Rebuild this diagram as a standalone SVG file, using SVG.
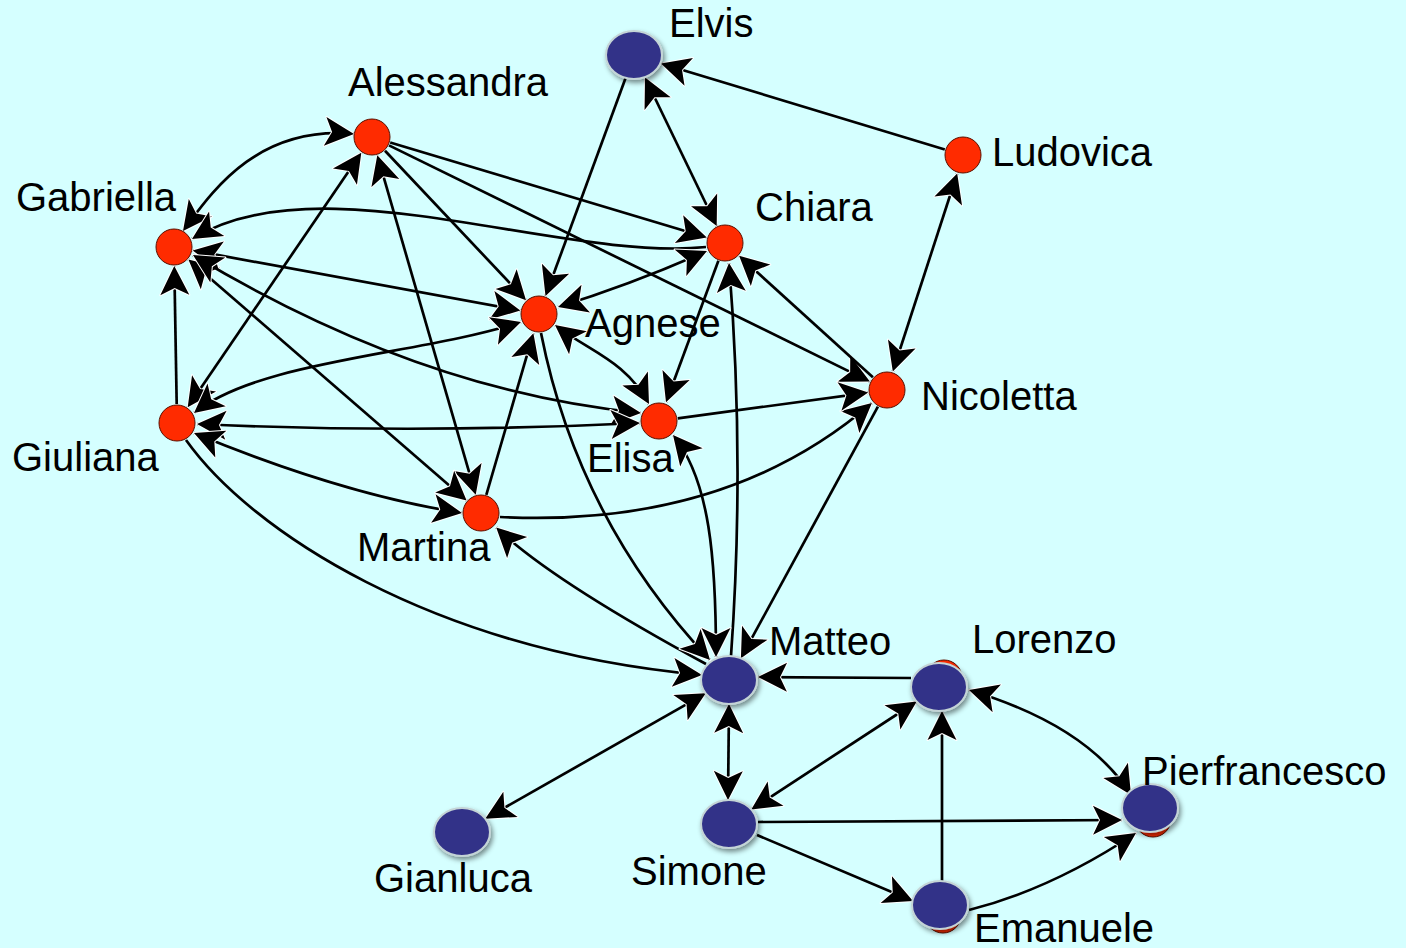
<svg xmlns="http://www.w3.org/2000/svg" width="1406" height="948" viewBox="0 0 1406 948">
<defs>
<style>
.e{fill:none;stroke:#000;stroke-width:2.7}
.a{marker-end:url(#ah)}
.b{marker-start:url(#ah);marker-end:url(#ah)}
.r{fill:#ff2b00;stroke:#5a1000;stroke-width:1}
.u{fill:#333388;stroke:#c4d4d6;stroke-width:2;filter:url(#sh)}
text{font-family:"Liberation Sans",Arial,Helvetica,sans-serif;font-size:40px;fill:#000}
</style>
<marker id="ah" viewBox="-34 -18 38 36" refX="0" refY="0" markerWidth="38" markerHeight="36" markerUnits="userSpaceOnUse" orient="auto-start-reverse">
<path d="M0,0 L-29,-14.5 L-22,0 L-29,14.5 Z" fill="#000" stroke="#fff" stroke-width="2" stroke-linejoin="round" paint-order="stroke"/>
</marker>
<filter id="sh" x="-40%" y="-40%" width="180%" height="180%">
<feDropShadow dx="2" dy="3" stdDeviation="2.5" flood-color="#000" flood-opacity="0.45"/>
</filter>
</defs>
<rect width="1406" height="948" fill="#d5ffff"/>
<g id="connectors">
<path class="e a" d="M944.8,149.5 L661,63.5"/>
<path class="e b" d="M645,77.5 L716.7,226"/>
<path class="e a" d="M625.6,78 L545.5,296"/>
<path class="e b" d="M957.2,173.5 L892.8,371.5"/>
<path class="e b" d="M354,134 C255,125 210,195 183,231"/>
<path class="e a" d="M390.2,142.5 L706.8,237.5"/>
<path class="e a" d="M389,145.4 L869.9,381.6"/>
<path class="e a" d="M385,150.8 L526,300.2"/>
<path class="e b" d="M377.3,155.2 L475.7,494.8"/>
<path class="e b" d="M187.7,407.3 L361.3,152.7"/>
<path class="e a" d="M176.7,404 L174.3,266"/>
<path class="e b" d="M188.4,259.4 L466.6,500.6"/>
<path class="e b" d="M192.7,250.4 L520.3,310.6"/>
<path class="e a" d="M706,247 C560,262 320,160 192,239"/>
<path class="e b" d="M193,255 Q419,391 641,413"/>
<path class="e b" d="M194,413 C260,360 420,355 521,322"/>
<path class="e b" d="M197,424 Q418,434 640,423"/>
<path class="e b" d="M194,433 Q343,494.5 462,513"/>
<path class="e a" d="M186,440 C250,530 430,650 702,675"/>
<path class="e a" d="M486.3,494.8 L533.4,333.2"/>
<path class="e a" d="M500,517 Q726.6,528.3 871.9,403.1"/>
<path class="e a" d="M706,664 Q551,580 496.2,527.5"/>
<path class="e a" d="M541,333 Q578,520 710,660"/>
<path class="e b" d="M558,307 Q630,285 707,251"/>
<path class="e b" d="M555,325 C590,352 625,360 649,404"/>
<path class="e a" d="M718.4,260.8 L666,402.2"/>
<path class="e a" d="M731,656 Q745,460 729,263"/>
<path class="e a" d="M872.9,377.2 L739.1,255.8"/>
<path class="e a" d="M677.8,418.4 L868.2,392.6"/>
<path class="e a" d="M877.9,406.7 L740.9,658.2"/>
<path class="e b" d="M673,435 C710,480 716,560 716,657"/>
<path class="e a" d="M911,678 L758,677"/>
<path class="e b" d="M729,704 L728,800"/>
<path class="e b" d="M705.7,693.3 L485.3,818.7"/>
<path class="e b" d="M751.3,809.5 L916.7,701.5"/>
<path class="e a" d="M758,822 L1122,820"/>
<path class="e a" d="M757,835 L913,901"/>
<path class="e a" d="M942,881 L942,711"/>
<path class="e a" d="M969,910 Q1052,889 1136,833"/>
<path class="e b" d="M969,690 Q1087.6,725.6 1131,795"/>
</g>
<g id="elvis"><ellipse class="u" cx="634" cy="55" rx="28" ry="24"/><text x="669" y="37">Elvis</text></g>
<g id="alessandra"><circle class="r" cx="372" cy="137" r="18"/><text x="348" y="96">Alessandra</text></g>
<g id="ludovica"><circle class="r" cx="963" cy="155" r="18"/><text x="992" y="166">Ludovica</text></g>
<g id="gabriella"><circle class="r" cx="174" cy="247" r="18"/><text x="16" y="211">Gabriella</text></g>
<g id="chiara"><circle class="r" cx="725" cy="243" r="18"/><text x="755" y="221">Chiara</text></g>
<g id="agnese"><circle class="r" cx="539" cy="314" r="18"/><text x="585" y="337">Agnese</text></g>
<g id="nicoletta"><circle class="r" cx="887" cy="390" r="18"/><text x="921" y="410">Nicoletta</text></g>
<g id="elisa"><circle class="r" cx="659" cy="421" r="18"/><text x="587" y="472">Elisa</text></g>
<g id="giuliana"><circle class="r" cx="177" cy="423" r="18"/><text x="12" y="471">Giuliana</text></g>
<g id="martina"><circle class="r" cx="481" cy="513" r="18"/><text x="357" y="561">Martina</text></g>
<g id="matteo"><ellipse class="u" cx="729" cy="680" rx="28" ry="24"/><text x="769" y="655">Matteo</text></g>
<g id="lorenzo"><circle class="r" cx="944" cy="678" r="18"/><ellipse class="u" cx="939" cy="687" rx="28" ry="24"/><text x="972" y="653">Lorenzo</text></g>
<g id="pierfrancesco"><circle class="r" cx="1153" cy="819" r="18"/><ellipse class="u" cx="1150" cy="808" rx="28" ry="24"/><text x="1142" y="785">Pierfrancesco</text></g>
<g id="gianluca"><ellipse class="u" cx="462" cy="832" rx="28" ry="24"/><text x="374" y="892">Gianluca</text></g>
<g id="simone"><ellipse class="u" cx="729" cy="824" rx="28" ry="24"/><text x="631" y="885">Simone</text></g>
<g id="emanuele"><circle class="r" cx="943" cy="915" r="18"/><ellipse class="u" cx="940" cy="905" rx="28" ry="24"/><text x="974" y="942">Emanuele</text></g>
</svg>
